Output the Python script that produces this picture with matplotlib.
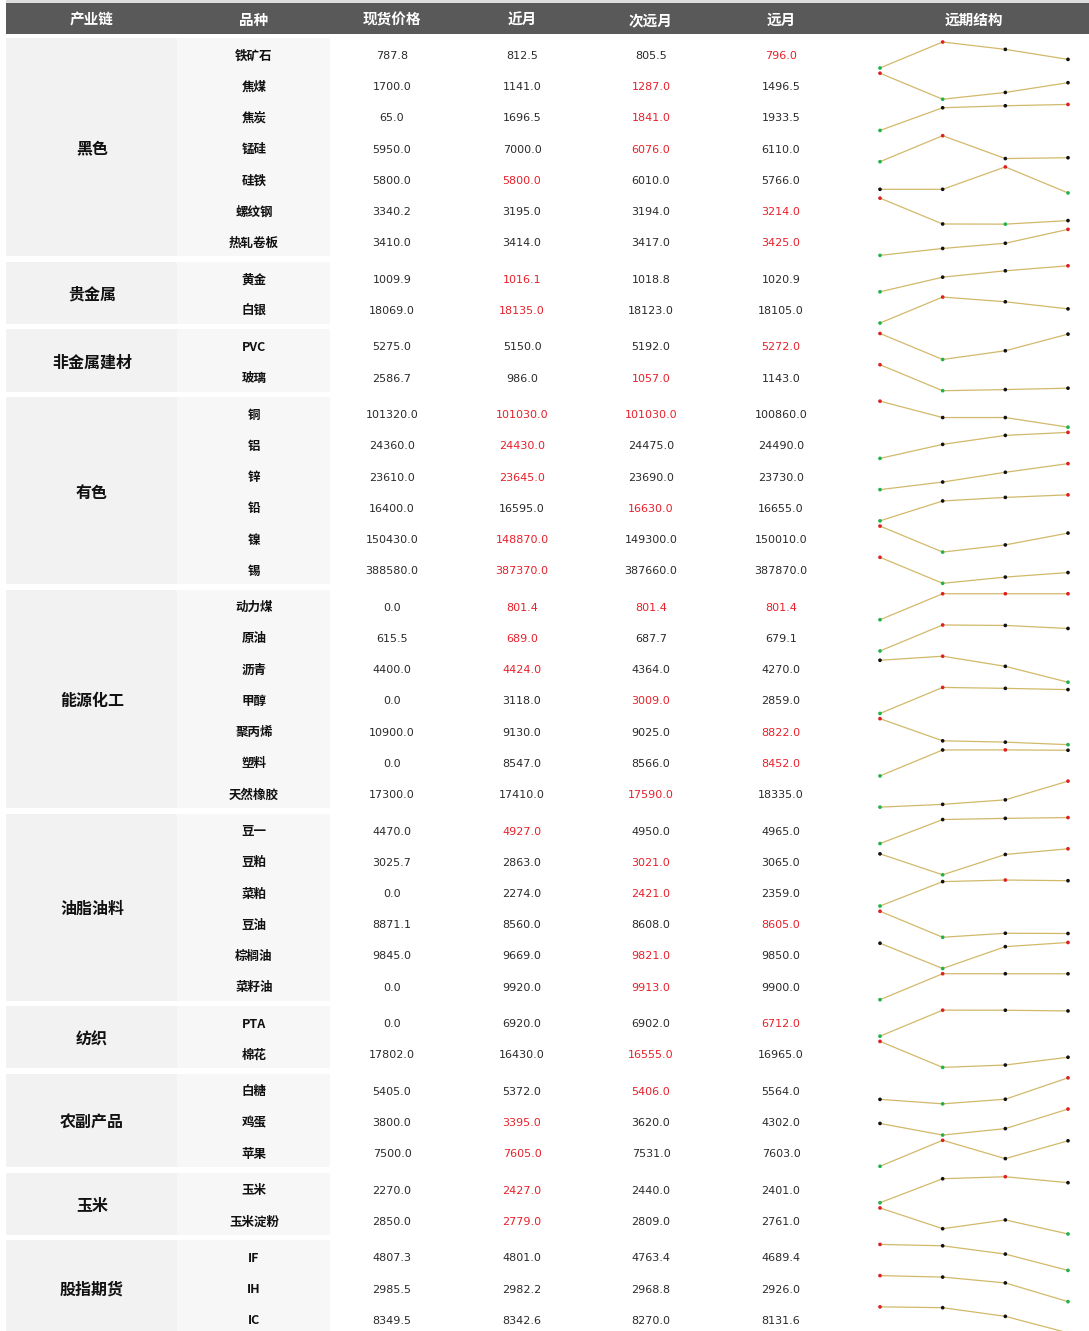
import matplotlib
matplotlib.use('Agg')
import matplotlib.pyplot as plt
from matplotlib.patches import Rectangle

plt.rcParams['font.family'] = ['Noto Sans CJK SC', 'DejaVu Sans']

# ---------------- data ----------------
headers = ['产业链', '品种', '现货价格', '近月', '次远月', '远月', '远期结构']
groups = ['黑色', '贵金属', '非金属建材', '有色', '能源化工', '油脂油料', '纺织', '农副产品', '玉米', '股指期货']
group_sizes = [7, 2, 2, 6, 7, 6, 2, 3, 2, 3]
varieties = ['铁矿石', '焦煤', '焦炭', '锰硅', '硅铁', '螺纹钢', '热轧卷板',
             '黄金', '白银',
             'PVC', '玻璃',
             '铜', '铝', '锌', '铅', '镍', '锡',
             '动力煤', '原油', '沥青', '甲醇', '聚丙烯', '塑料', '天然橡胶',
             '豆一', '豆粕', '菜粕', '豆油', '棕榈油', '菜籽油',
             'PTA', '棉花',
             '白糖', '鸡蛋', '苹果',
             '玉米', '玉米淀粉',
             'IF', 'IH', 'IC']
spot = [787.8, 1700.0, 65.0, 5950.0, 5800.0, 3340.2, 3410.0,
        1009.9, 18069.0,
        5275.0, 2586.7,
        101320.0, 24360.0, 23610.0, 16400.0, 150430.0, 388580.0,
        0.0, 615.5, 4400.0, 0.0, 10900.0, 0.0, 17300.0,
        4470.0, 3025.7, 0.0, 8871.1, 9845.0, 0.0,
        0.0, 17802.0,
        5405.0, 3800.0, 7500.0,
        2270.0, 2850.0,
        4807.3, 2985.5, 8349.5]
near = [812.5, 1141.0, 1696.5, 7000.0, 5800.0, 3195.0, 3414.0,
        1016.1, 18135.0,
        5150.0, 986.0,
        101030.0, 24430.0, 23645.0, 16595.0, 148870.0, 387370.0,
        801.4, 689.0, 4424.0, 3118.0, 9130.0, 8547.0, 17410.0,
        4927.0, 2863.0, 2274.0, 8560.0, 9669.0, 9920.0,
        6920.0, 16430.0,
        5372.0, 3395.0, 7605.0,
        2427.0, 2779.0,
        4801.0, 2982.2, 8342.6]
next_far = [805.5, 1287.0, 1841.0, 6076.0, 6010.0, 3194.0, 3417.0,
            1018.8, 18123.0,
            5192.0, 1057.0,
            101030.0, 24475.0, 23690.0, 16630.0, 149300.0, 387660.0,
            801.4, 687.7, 4364.0, 3009.0, 9025.0, 8566.0, 17590.0,
            4950.0, 3021.0, 2421.0, 8608.0, 9821.0, 9913.0,
            6902.0, 16555.0,
            5406.0, 3620.0, 7531.0,
            2440.0, 2809.0,
            4763.4, 2968.8, 8270.0]
far = [796.0, 1496.5, 1933.5, 6110.0, 5766.0, 3214.0, 3425.0,
       1020.9, 18105.0,
       5272.0, 1143.0,
       100860.0, 24490.0, 23730.0, 16655.0, 150010.0, 387870.0,
       801.4, 679.1, 4270.0, 2859.0, 8822.0, 8452.0, 18335.0,
       4965.0, 3065.0, 2359.0, 8605.0, 9850.0, 9900.0,
       6712.0, 16965.0,
       5564.0, 4302.0, 7603.0,
       2401.0, 2761.0,
       4689.4, 2926.0, 8131.6]
# price columns shown in red (main contract), 0=spot 1=near 2=next 3=far
main_cols = [[3], [2], [2], [2], [1], [3], [3],
             [1], [1],
             [3], [2],
             [1, 2], [1], [1], [2], [1], [1],
             [1, 2, 3], [1], [1], [2], [3], [3], [2],
             [1], [2], [2], [3], [2], [2],
             [3], [2],
             [2], [1], [1],
             [1], [1],
             [], [], []]

# ---------------- layout ----------------
W, H = 1089, 1331
fig = plt.figure(figsize=(W / 100, H / 100), dpi=100)
ax = fig.add_axes([0, 0, 1, 1])
ax.set_xlim(0, W)
ax.set_ylim(H, 0)
ax.axis('off')

col_x = [92, 254, 392, 522, 651, 781, 974]
spark_x0, spark_x1 = 880, 1068
pitch = 31.23
group_gap = 5.21

# header
ax.add_patch(Rectangle((6, 0), W - 6, 3, color='#dcdcdc', lw=0))
ax.add_patch(Rectangle((6, 3), W - 6, 31, color='#595959', lw=0))
for h, x in zip(headers, col_x):
    ax.text(x, 20, h, ha='center', va='center', color='white', fontsize=10.5, fontweight='bold')

line_col = '#d2b96a'
y = 55.0
r = 0
for g, n in zip(groups, group_sizes):
    top = y - 17
    bottom = y + (n - 1) * pitch + 14
    ax.add_patch(Rectangle((6, top), 171, bottom - top, color='#f2f2f2', lw=0))
    ax.add_patch(Rectangle((177, top), 153, bottom - top, color='#f7f7f7', lw=0))
    ax.text(col_x[0], (top + bottom) / 2 + 2, g, ha='center', va='center',
            fontsize=11.5, fontweight='bold', color='#111111')
    for i in range(n):
        ax.text(col_x[1], y + 1, varieties[r], ha='center', va='center',
                fontsize=9, fontweight='bold', color='#111111')
        vals = [spot[r], near[r], next_far[r], far[r]]
        for k, v in enumerate(vals):
            c = '#e8202a' if k in main_cols[r] else '#2a2a2a'
            ax.text(col_x[2 + k], y + 1, '%.1f' % v, ha='center', va='center',
                    fontsize=8, color=c, family='DejaVu Sans')
        # sparkline for the term structure
        sax = fig.add_axes([spark_x0 / W, 1 - (y + 13) / H,
                            (spark_x1 - spark_x0) / W, 26 / H])
        sax.set_xlim(0, 3)
        vmin, vmax = min(vals), max(vals)
        sax.set_ylim(vmin, vmax)
        sax.axis('off')
        sax.plot(range(4), vals, color=line_col, lw=0.9, clip_on=False, zorder=1)
        cols = ['#e01f1f' if v == vmax else ('#1fb34a' if v == vmin else '#111111') for v in vals]
        sax.scatter(range(4), vals, c=cols, s=7, zorder=3, clip_on=False, linewidths=0)
        y += pitch
        r += 1
    y += group_gap

fig.savefig('out.png', dpi=100)
